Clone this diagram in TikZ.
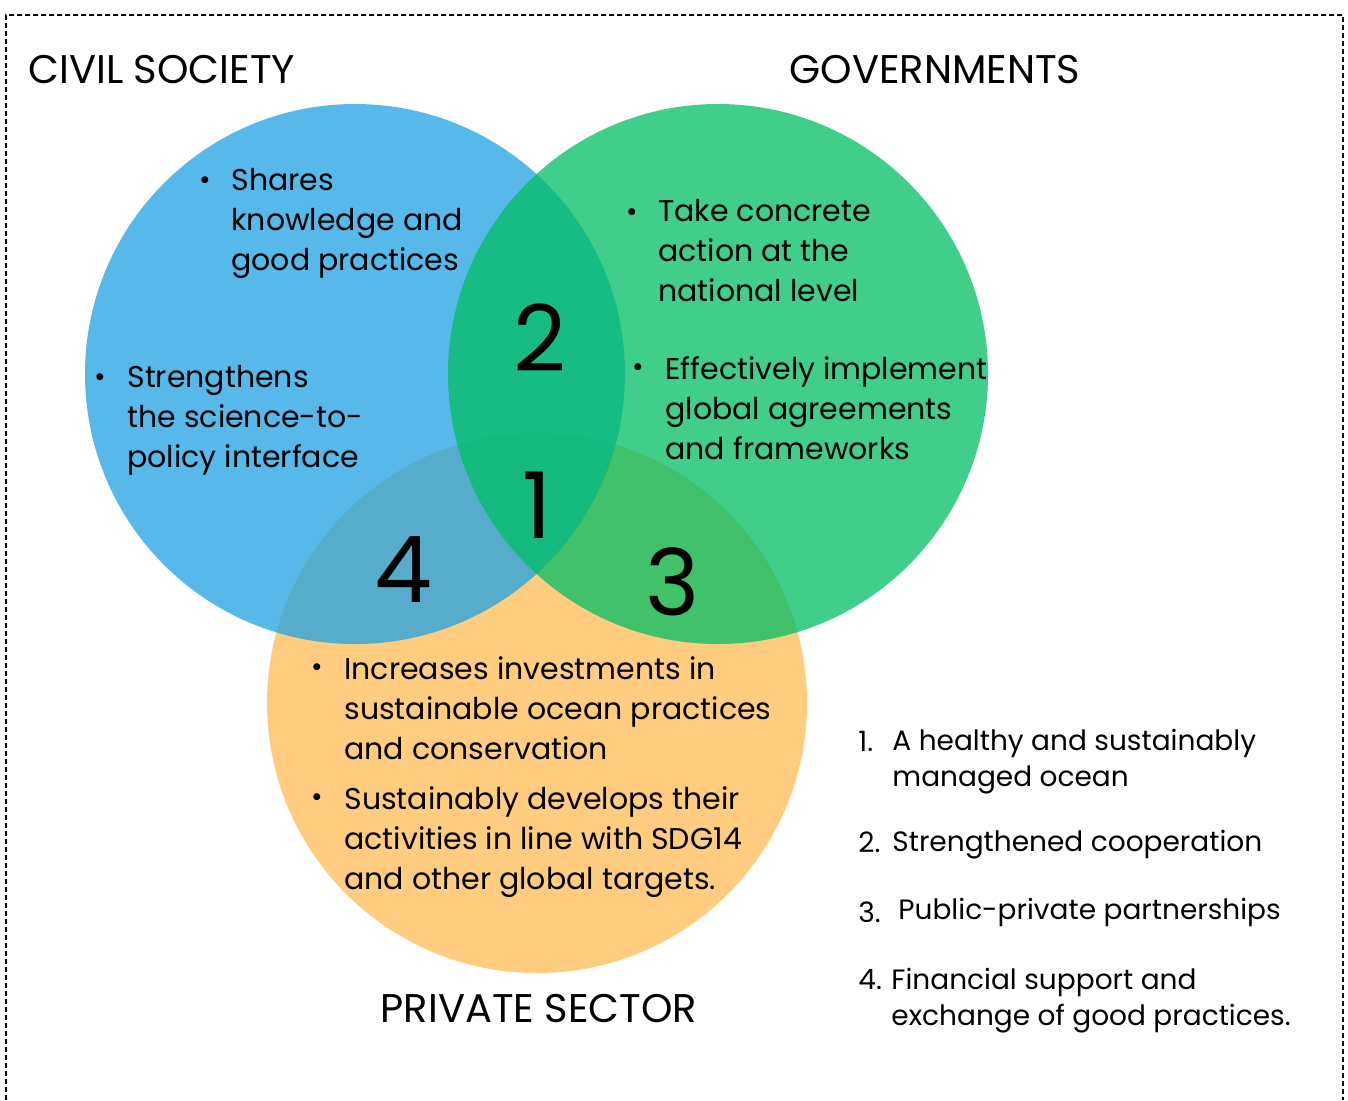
\documentclass[tikz,border=0pt]{standalone}
\usepackage{fontspec}
\setmainfont{Poppins}
\begin{document}
\begin{tikzpicture}[x=0.5pt, y=-0.5pt,
    heading/.style={font=\fontsize{20}{24}\selectfont, inner sep=0pt},
    bodytext/.style={anchor=north west, align=left, inner sep=0pt,
        font=\fontsize{15}{20}\selectfont},
    bulletdot/.style={inner sep=0pt, font=\fontsize{14}{14}\selectfont},
    bignumber/.style={inner sep=0pt, font=\fontsize{46}{46}\selectfont},
    legendnum/.style={anchor=north west, inner sep=0pt, font=\fontsize{14}{18}\selectfont},
    legendtext/.style={anchor=north west, align=left, inner sep=0pt,
        font=\fontsize{14}{18}\selectfont}]
    \def\circleRadius{135pt}
    \definecolor{blueFill}{HTML}{24A4E2}
    \definecolor{greenFill}{HTML}{00BE63}
    \definecolor{orangeFill}{HTML}{FFCC80}

    \useasboundingbox (0,0) rectangle (1348,1100);

    % Dashed frame, open at the bottom
    \draw[line width=1.2pt, dash pattern=on 2.5pt off 1.5pt] (6,1100) |- (1343,15) -- (1343,1100);

    % Three circles
    \fill[orangeFill] (537,703) circle[radius=\circleRadius];
    \fill[blueFill, fill opacity=0.77] (355,374) circle[radius=\circleRadius];
    \fill[greenFill, fill opacity=0.75] (718,374) circle[radius=\circleRadius];

    % Headings
    \node[heading, anchor=west] (civil) at (28,70) {CIVIL SOCIETY};
    \node[heading] (gov) at (935,70) {GOVERNMENTS};
    \node[heading] (private) at (539,1008) {PRIVATE SECTOR};

    % Civil society
    \node[bulletdot] (cs1dot) at (205,183) {•};
    \node[bodytext] (cs1) at (231,168) {Shares\\knowledge and\\good practices};
    \node[bulletdot] (cs2dot) at (100,380) {•};
    \node[bodytext] (cs2) at (127,365) {Strengthens\\the science-to-\\policy interface};

    % Governments
    \node[bulletdot] (gv1dot) at (632,215) {•};
    \node[bodytext] (gv1) at (658,199) {Take concrete\\action at the\\national level};
    \node[bulletdot] (gv2dot) at (638,370) {•};
    \node[bodytext] (gv2) at (665,356) {Effectively implement\\global agreements\\and frameworks};

    % Private sector
    \node[bulletdot] (ps1dot) at (317,670) {•};
    \node[bodytext] (ps1) at (344,656) {Increases investments in\\sustainable ocean practices\\and conservation};
    \node[bulletdot] (ps2dot) at (317,800) {•};
    \node[bodytext] (ps2) at (344,786) {Sustainably develops their\\activities in line with SDG14\\and other global targets.};

    % Overlap numbers
    \node[bignumber] (n2) at (540,338) {2};
    \node[bignumber] (n1) at (537,505) {1};
    \node[bignumber] (n4) at (403,570) {4};
    \node[bignumber] (n3) at (673,582) {3};

    % Legend
    \node[legendnum] (l1) at (858,731) {1.};
    \node[legendtext] (t1) at (892,729) {A healthy and sustainably\\managed ocean};
    \node[legendnum] (l2) at (858,831) {2.};
    \node[legendtext] (t2) at (892,830) {Strengthened cooperation};
    \node[legendnum] (l3) at (858,901) {3.};
    \node[legendtext] (t3) at (898,898) {Public-private partnerships};
    \node[legendnum] (l4) at (858,969) {4.};
    \node[legendtext] (t4) at (891,968) {Financial support and\\exchange of good practices.};
\end{tikzpicture}
\end{document}
